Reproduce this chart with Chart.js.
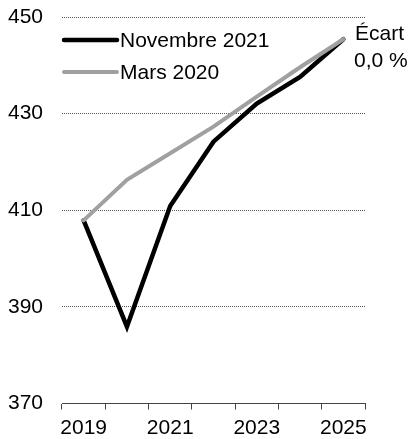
<!DOCTYPE html>
<html>
<head>
<meta charset="utf-8">
<script src="https://cdn.jsdelivr.net/npm/chart.js@4/dist/chart.umd.min.js"></script>
<style>
  html, body { margin: 0; padding: 0; background: #fff; }
  #wrap { width: 409px; height: 439px; }
</style>
</head>
<body>
<div id="wrap"><canvas id="c" width="409" height="439"></canvas></div>
<script>
// Years on the horizontal axis
const years = ['2019', '2020', '2021', '2022', '2023', '2024', '2025'];
// Projection published November 2021
const novembre2021 = [407.9, 385.9, 410.9, 424.2, 432.1, 437.6, 445.4];
// Projection published March 2020
const mars2020 = [407.9, 416.3, 421.8, 427.3, 433.5, 439.6, 445.4];
// Vertical axis ticks
const yTicks = [370, 390, 410, 430, 450];
// Gap note shown at the end of the lines
const ecartLines = ['Écart', '0,0 %'];

const FONT = '"Liberation Sans", Arial, sans-serif';

// Legend drawn inside the plot, top-left
const insideLegend = {
  id: 'insideLegend',
  afterDatasetsDraw(chart) {
    const ctx = chart.ctx;
    const left = chart.chartArea.left;
    const items = [chart.data.datasets[0], chart.data.datasets[1]];
    const rows = [40, 72];
    ctx.save();
    ctx.font = '21px ' + FONT;
    ctx.textBaseline = 'middle';
    ctx.textAlign = 'left';
    items.forEach((ds, i) => {
      ctx.strokeStyle = ds.borderColor;
      ctx.lineWidth = ds.borderWidth;
      ctx.lineCap = 'round';
      ctx.beginPath();
      ctx.moveTo(left + 2, rows[i]);
      ctx.lineTo(left + 55, rows[i]);
      ctx.stroke();
      ctx.fillStyle = '#000';
      ctx.fillText(ds.label, left + 58, rows[i] + 1);
    });
    ctx.restore();
  }
};

// Gap annotation to the right of the last point
const gapNote = {
  id: 'gapNote',
  afterDraw(chart) {
    const ctx = chart.ctx;
    ctx.save();
    ctx.font = '21px ' + FONT;
    ctx.fillStyle = '#000';
    ctx.textBaseline = 'alphabetic';
    ctx.textAlign = 'left';
    ctx.fillText(ecartLines[0], 355, 40);
    ctx.fillText(ecartLines[1], 354, 67);
    ctx.restore();
  }
};

new Chart(document.getElementById('c'), {
  type: 'line',
  data: {
    labels: years,
    datasets: [
      {
        label: 'Novembre 2021',
        data: novembre2021,
        borderColor: '#000000',
        borderWidth: 4.5,
        pointRadius: 0,
        tension: 0,
        borderCapStyle: 'round',
        borderJoinStyle: 'miter',
        order: 1
      },
      {
        label: 'Mars 2020',
        data: mars2020,
        borderColor: '#a0a0a0',
        borderWidth: 4,
        pointRadius: 0,
        tension: 0,
        borderCapStyle: 'round',
        borderJoinStyle: 'miter',
        order: 0
      }
    ]
  },
  options: {
    responsive: false,
    animation: false,
    devicePixelRatio: 1,
    layout: { padding: { top: 17, right: 44, left: 0, bottom: 0 } },
    plugins: {
      legend: { display: false },
      tooltip: { enabled: false }
    },
    scales: {
      x: {
        type: 'category',
        offset: true,
        grid: {
          display: true,
          offset: true,
          drawOnChartArea: false,
          drawTicks: true,
          tickLength: 6,
          color: '#444'
        },
        border: { display: true, color: '#444', width: 1 },
        ticks: {
          autoSkip: false,
          maxRotation: 0,
          padding: 6,
          color: '#000',
          font: { family: FONT, size: 21 },
          callback: (v, i) => (i % 2 === 0 ? years[i] : '')
        },
        afterFit: (s) => { s.height = 35.5; s.paddingLeft = 0; s.paddingRight = 0; }
      },
      y: {
        min: yTicks[0],
        max: yTicks[yTicks.length - 1],
        afterBuildTicks: (s) => { s.ticks = yTicks.map(v => ({ value: v })); },
        grid: {
          color: '#555',
          lineWidth: 1,
          drawTicks: false
        },
        border: { display: false, dash: [1, 1] },
        ticks: {
          padding: 19,
          color: '#000',
          font: { family: FONT, size: 21 }
        },
        afterFit: (s) => { s.width = 62; s.paddingTop = 0; s.paddingBottom = 0; }
      }
    }
  },
  plugins: [insideLegend, gapNote]
});
</script>
</body>
</html>
